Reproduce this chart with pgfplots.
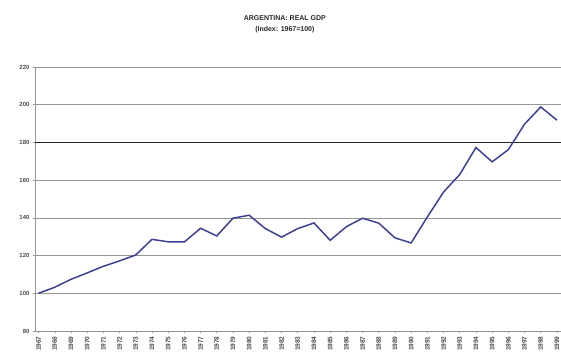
\documentclass[border=0pt]{standalone}
\usepackage{pgfplots}
\pgfplotsset{compat=1.18}
\usepackage{fontspec}
\setmainfont{Liberation Sans}

\definecolor{gdpline}{RGB}{64,64,146}
\definecolor{gridgray}{RGB}{150,150,150}

\pgfplotstableread{
year  gdp
1967 100.0
1968 103.2
1969 107.4
1970 110.8
1971 114.3
1972 117.2
1973 120.3
1974 128.6
1975 127.3
1976 127.2
1977 134.5
1978 130.4
1979 139.8
1980 141.4
1981 134.3
1982 129.8
1983 134.3
1984 137.3
1985 128.1
1986 135.3
1987 139.8
1988 137.2
1989 129.4
1990 126.7
1991 140.5
1992 153.7
1993 163.0
1994 177.3
1995 169.7
1996 176.2
1997 189.7
1998 198.8
1999 191.8
}\gdptable

\begin{document}
\begin{tikzpicture}
\useasboundingbox (0,0) rectangle (561pt,358pt);
\begin{axis}[
  at={(35pt,27pt)}, anchor=south west,
  scale only axis,
  width=526pt, height=264pt,
  xmin=1966.78, xmax=1999.25,
  ymin=80, ymax=220,
  ytick={80,100,...,220},
  xtick={1967,...,1999},
  axis x line*=bottom,
  axis y line*=left,
  axis line style={gridgray, line width=0.9pt},
  ymajorgrids,
  major grid style={gridgray, line width=0.7pt},
  tick style={gridgray, line width=0.5pt},
  major tick length=2pt,
  tick align=outside,
  xticklabel style={rotate=90, anchor=east, font=\fontsize{6.5}{7}\selectfont\bfseries, text=black!70},
  yticklabel style={font=\fontsize{6}{7}\selectfont\bfseries, text=black!70},
  /pgf/number format/assume math mode=true,
  /pgf/number format/.cd, 1000 sep={},
  clip=false,
]
% the 180 gridline is drawn darker
\draw[black!85, line width=0.9pt] (axis cs:1966.78,180) -- (axis cs:1999.25,180);
\addplot[gdpline, line width=1.5pt, mark=none] table[x=year, y=gdp] {\gdptable};
\node[align=center, font=\fontsize{7}{11}\selectfont\bfseries, text=black!85]
  at (axis description cs:0.475,1.16) {ARGENTINA: REAL GDP\\(Index: 1967=100)};
\end{axis}
\end{tikzpicture}
\end{document}
